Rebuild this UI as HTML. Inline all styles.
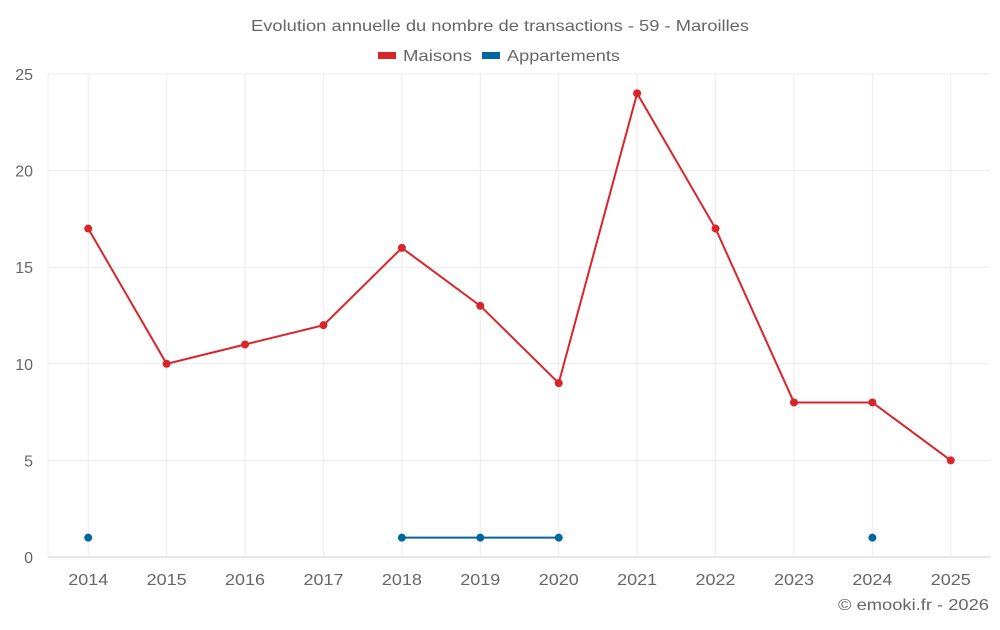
<!DOCTYPE html>
<html><head><meta charset="utf-8"><style>
body{margin:0;background:#fff;font-family:"Liberation Sans",sans-serif;}
svg text{font-family:"Liberation Sans",sans-serif;fill:#666;}
</style></head><body>
<svg id="c" width="1000" height="625">
<text x="251" y="31" textLength="498" lengthAdjust="spacingAndGlyphs" font-size="16">Evolution annuelle du nombre de transactions - 59 - Maroilles</text>
<g>
<g><rect x="378" y="52" width="18" height="7" fill="#d9242a"/><text x="403" y="61" textLength="69" lengthAdjust="spacingAndGlyphs" font-size="16">Maisons</text></g>
<g><rect x="482" y="52" width="18" height="7" fill="#0066a0"/><text x="507" y="61" textLength="113" lengthAdjust="spacingAndGlyphs" font-size="16">Appartements</text></g>
</g>
<g id="grid"></g><g id="axes"></g><g id="series"></g>
<text x="838" y="610" textLength="151" lengthAdjust="spacingAndGlyphs" font-size="16">© emooki.fr - 2026</text>
</svg>
<script>
const categories=["2014","2015","2016","2017","2018","2019","2020","2021","2022","2023","2024","2025"];
const maisons=[17,10,11,12,16,13,9,24,17,8,8,5];
const appartements=[1,null,null,null,1,1,1,null,null,null,1,null];
const yTicks=[0,5,10,15,20,25];
const L=49,R=990,T=74,B=557,yMax=25;
const band=(R-L)/categories.length;
const x=i=>L+band*(i+0.5);
const y=v=>B-(B-T)*v/yMax;
const NS="http://www.w3.org/2000/svg";
function mk(p,t,a){const e=document.createElementNS(NS,t);for(const k in a)e.setAttribute(k,a[k]);p.appendChild(e);return e;}
const g=document.getElementById('grid'),ax=document.getElementById('axes'),s=document.getElementById('series');
yTicks.forEach(v=>{
 const l=mk(g,'line',{x1:L-1,x2:R,y1:y(v),y2:y(v),stroke:v===0?'#ccc':'#ebebeb','stroke-width':1});
 
 
 const t=mk(ax,'text',{x:33,y:y(v)+6,'text-anchor':'end','font-size':16});t.textContent=v;
 
 
});
mk(g,'line',{x1:L-1,x2:L-1,y1:T,y2:B,stroke:'#ebebeb'});
categories.forEach((c,i)=>{
 const l=mk(g,'line',{x1:x(i),x2:x(i),y1:T,y2:B,stroke:'#ebebeb'});
 
 
 const t=mk(ax,'text',{x:x(i),y:585,'text-anchor':'middle','font-size':16,textLength:40,lengthAdjust:'spacingAndGlyphs'});t.textContent=c;
 
 
});
function draw(data,color,name){
 let segs=[],cur=[];
 data.forEach((v,i)=>{if(v==null){if(cur.length)segs.push(cur);cur=[];}else cur.push([x(i),y(v)]);});
 if(cur.length)segs.push(cur);
 segs.forEach(sg=>{if(sg.length>1){const p=mk(s,'polyline',{points:sg.map(q=>q.join(',')).join(' '),fill:'none',stroke:color,'stroke-width':2});
  
  }});
 data.forEach((v,i)=>{if(v==null)return;const c=mk(s,'circle',{cx:x(i),cy:y(v),r:4,fill:color});
  
  });
}
draw(maisons,'#d9242a','maisons');
draw(appartements,'#0066a0','appartements');
</script>
</body></html>
